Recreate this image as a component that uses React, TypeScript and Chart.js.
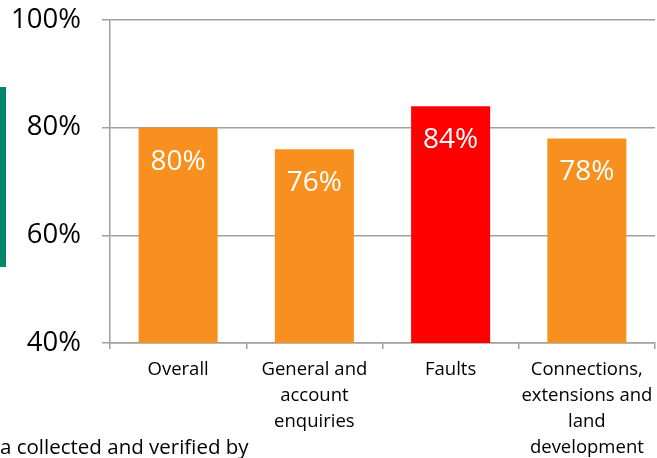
import React, { useEffect, useRef } from "react";
import { Chart, registerables } from "chart.js";

Chart.register(...registerables);

const categories: (string | string[])[] = [
  "Overall",
  ["General and", "account", "enquiries"],
  "Faults",
  ["Connections,", "extensions and", "land", "development"],
];
const values = [80, 76, 84, 78];
const barColors = ["#F7901E", "#F7901E", "#FF0000", "#F7901E"];
const yTicks = [40, 60, 80, 100];
const footnote = "a collected and verified by";

const FONT = "'Open Sans', 'DejaVu Sans', sans-serif";
const GRID = "#A0A0A0";

const labelPlugin = {
  id: "barLabels",
  afterDatasetsDraw(chart: any) {
    const ctx = chart.ctx;
    const meta = chart.getDatasetMeta(0);
    ctx.save();
    ctx.fillStyle = "#FFFFFF";
    ctx.font = `28px ${FONT}`;
    ctx.textAlign = "center";
    ctx.textBaseline = "middle";
    meta.data.forEach((bar: any, i: number) => {
      ctx.fillText(`${values[i]}%`, bar.x, bar.y + 34);
    });
    ctx.restore();
  },
};

export default function App() {
  const ref = useRef<HTMLCanvasElement>(null);
  useEffect(() => {
    if (!ref.current) return;
    const chart = new Chart(ref.current, {
      type: "bar",
      data: {
        labels: categories,
        datasets: [
          {
            data: values,
            backgroundColor: barColors,
            borderWidth: 0,
            barPercentage: 0.58,
            categoryPercentage: 1,
          },
        ],
      },
      options: {
        animation: false,
        responsive: false,
        maintainAspectRatio: false,
        layout: { padding: { top: 20, right: 2, left: 0, bottom: 0 } },
        plugins: { legend: { display: false }, tooltip: { enabled: false } },
        scales: {
          x: {
            grid: {
              offset: true,
              drawOnChartArea: false,
              drawTicks: true,
              tickLength: 6,
              color: GRID,
              lineWidth: 1.5,
            },
            border: { display: true, color: GRID, width: 1.5 },
            ticks: {
              color: "#000000",
              font: { family: FONT, size: 18.5, lineHeight: 1.4 },
              padding: 8,
              maxRotation: 0,
              autoSkip: false,
            },
            afterFit: (s: any) => {
              s.height = 115;
              s.paddingLeft = 0;
              s.paddingRight = 0;
            },
          },
          y: {
            min: 40,
            max: 100,
            afterBuildTicks: (s: any) => {
              s.ticks = yTicks.map((v) => ({ value: v }));
            },
            grid: {
              color: GRID,
              lineWidth: 1.5,
              drawTicks: true,
              tickLength: 8,
            },
            border: { display: true, color: GRID, width: 1.5 },
            ticks: {
              color: "#000000",
              font: { family: FONT, size: 27.5 },
              padding: 21,
              callback: (v: any) => `${v}%`,
            },
            afterFit: (s: any) => {
              s.width = 110;
              s.paddingTop = 0;
              s.paddingBottom = 0;
            },
          },
        },
      },
      plugins: [labelPlugin],
    });
    return () => chart.destroy();
  }, []);

  return (
    <div
      style={{
        position: "fixed",
        left: 0,
        top: 0,
        width: 657,
        height: 458,
        background: "#FFFFFF",
        overflow: "hidden",
      }}
    >
      <canvas ref={ref} width={657} height={458} style={{ position: "absolute", left: 0, top: 0 }} />
      <div
        style={{
          position: "absolute",
          left: 0,
          top: 87,
          width: 6,
          height: 180,
          background: "#00876A",
        }}
      />
      <div
        style={{
          position: "absolute",
          left: 0,
          top: 433,
          fontFamily: FONT,
          fontSize: 20.5,
          lineHeight: "26px",
          color: "#000000",
          whiteSpace: "nowrap",
        }}
      >
        {footnote}
      </div>
    </div>
  );
}
